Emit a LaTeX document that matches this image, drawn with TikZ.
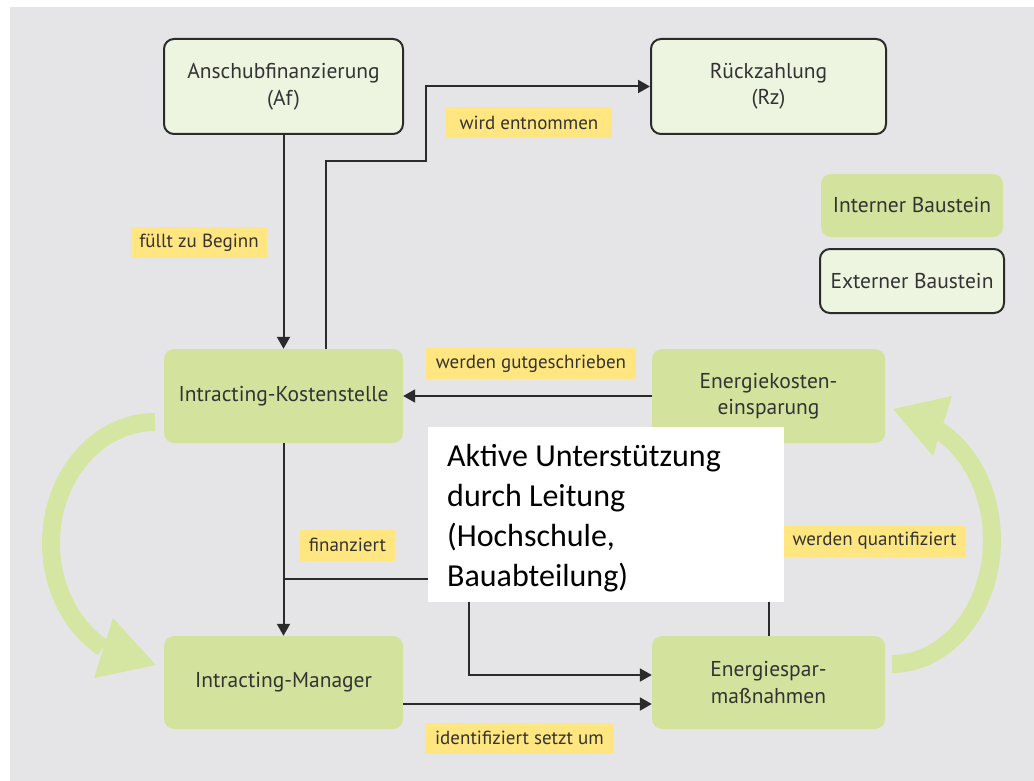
\documentclass[tikz,border=0pt]{standalone}
\usepackage{fontspec}
\setmainfont{PT Sans}
\newfontfamily\calib{Carlito}
\usetikzlibrary{arrows.meta}
\definecolor{bggray}{HTML}{E5E5E7}
\definecolor{intfill}{HTML}{D3E39E}
\definecolor{extfill}{HTML}{EDF5E0}
\definecolor{lblyellow}{HTML}{FFE680}
\definecolor{linedark}{HTML}{2B2B2B}
\definecolor{txtdark}{HTML}{333333}
\definecolor{arcgreen}{HTML}{D5E5A2}
\tikzset{
  intbox/.style={fill=intfill, rounded corners=10pt, inner sep=0pt, align=center, text=txtdark, font=\fontsize{21.5}{26.5}\selectfont},
  extbox/.style={fill=extfill, draw=linedark, line width=2pt, rounded corners=10pt, inner sep=0pt, align=center, text=txtdark, font=\fontsize{21.5}{26.5}\selectfont},
  lbl/.style={fill=lblyellow, inner sep=0pt, minimum height=31pt, text=txtdark, font=\fontsize{19}{22}\selectfont},
  conn/.style={draw=linedark, line width=2pt, -{Triangle[length=12pt,width=13pt]}},
  bigarc/.style={draw=arcgreen, line width=18pt},
}
\begin{document}
\begin{tikzpicture}[x=1pt,y=-1pt]
\useasboundingbox (0,0) rectangle (1034,781);
\fill[bggray] (10,7) rectangle (1034,781);

% green cycle arrows
\draw[bigarc] plot[domain=90:240, samples=60] ({155+104*cos(\x)}, {543-121*sin(\x)});
\fill[arcgreen] (156,665) -- (94,678) -- (113,618) -- cycle;
\draw[bigarc] plot[domain=-90:62, samples=60] ({892+100*cos(\x)}, {540-124*sin(\x)});
\fill[arcgreen] (893,409) -- (952,396) -- (933,456) -- cycle;

% nodes
\node[extbox, minimum width=239pt, minimum height=95pt] (af) at (283.5,86.5) {Anschubfinanzierung\\(Af)};
\node[extbox, minimum width=235pt, minimum height=95pt] (rz) at (768.5,86.5) {Rückzahlung\\(Rz)};
\node[intbox, minimum width=182pt, minimum height=63pt] (legint) at (912,205.5) {Interner Baustein};
\node[extbox, minimum width=184pt, minimum height=64pt] (legext) at (912,281) {Externer Baustein};
\node[intbox, minimum width=239pt, minimum height=94pt] (ks) at (283.5,396) {Intracting-Kostenstelle};
\node[intbox, minimum width=233pt, minimum height=94pt] (ek) at (768.5,396) {Energiekosten-\\einsparung};
\node[intbox, minimum width=239pt, minimum height=93pt] (km) at (283.5,682.5) {Intracting-Manager};
\node[intbox, minimum width=233pt, minimum height=93pt] (es) at (768.5,682.5) {Energiespar-\\maßnahmen};

% connectors
\draw[conn] (af) -- (ks);
\coordinate (up1) at (426,161);
\draw[conn] ([xshift=42.5pt]ks.north) |- (up1) |- (rz.west);
\draw[conn] (ek.west) -- (ks.east);
\draw[conn] (ks) -- (km);
\coordinate (br) at (283.5,579);
\coordinate (bend) at (469,675);
\draw[conn] (br) -| (bend) -- ([yshift=7.5pt]es.west);
\draw[conn] ([yshift=-21.5pt]km.east) -- ([yshift=-21.5pt]es.west);
\draw[conn] (es) -- (ek);

% labels
\node[lbl, minimum width=166pt] (l1) at (529,122.5) {wird entnommen};
\node[lbl, minimum width=136pt] (l2) at (199,242.5) {füllt zu Beginn};
\node[lbl, minimum width=210pt] (l3) at (531,363.5) {werden gutgeschrieben};
\node[lbl, minimum width=95pt] (l4) at (347.5,545) {finanziert};
\node[lbl, minimum width=183pt] (l5) at (874.5,541) {werden quantifiziert};
\node[lbl, minimum width=189pt] (l6) at (519.5,738) {identifiziert setzt um};

% white overlay box
\node[fill=white, minimum width=356pt, minimum height=175pt, inner sep=0pt] (wb) at (606,514.5) {};
\node[anchor=west, align=left, inner sep=0pt, font=\calib\fontsize{32}{40}\selectfont] (wbt) at (447,518) {Aktive Unterstützung\\durch Leitung\\(Hochschule,\\Bauabteilung)};
\end{tikzpicture}
\end{document}
